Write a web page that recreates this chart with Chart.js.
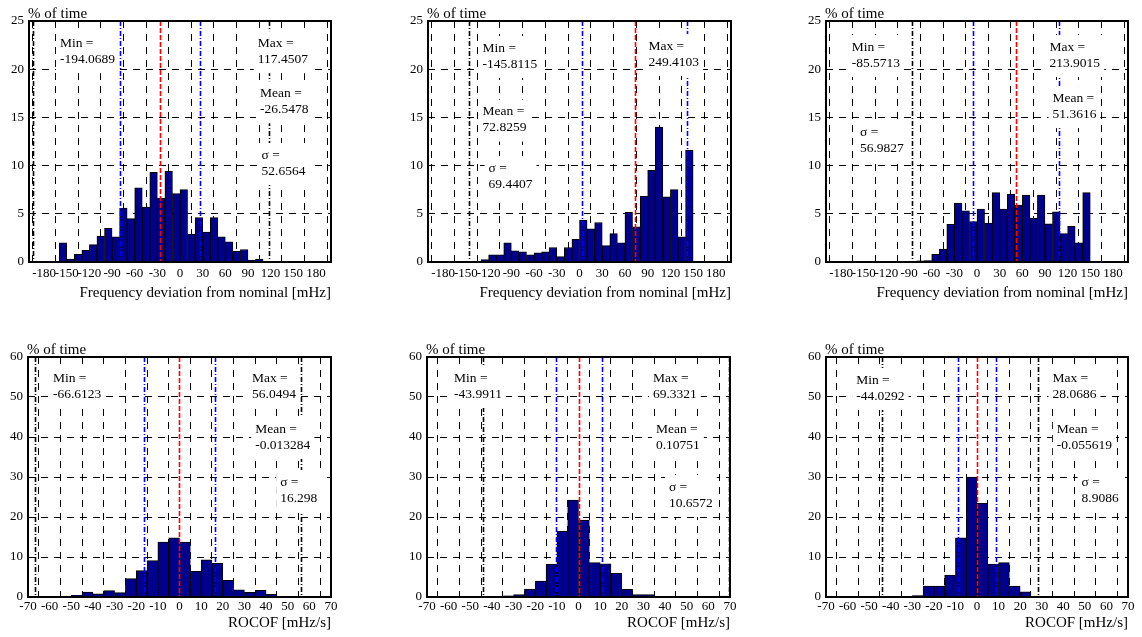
<!DOCTYPE html>
<html>
<head>
<meta charset="utf-8">
<script src="https://cdn.jsdelivr.net/npm/chart.js@4.4.0/dist/chart.umd.min.js"></script>
<style>
  body { margin: 0; background: #fff; width: 1142px; height: 637px; position: relative; overflow: hidden; }
  canvas { position: absolute; }
</style>
</head>
<body>
<canvas id="f1"></canvas>
<canvas id="f2"></canvas>
<canvas id="f3"></canvas>
<canvas id="r1"></canvas>
<canvas id="r2"></canvas>
<canvas id="r3"></canvas>
<script>
// bin centres (10 mHz bins for frequency, 5 mHz/s bins for ROCOF)
const freqBins = [-195,-185,-175,-165,-155,-145,-135,-125,-115,-105,-95,-85,-75,-65,-55,-45,-35,-25,-15,-5,
                  5,15,25,35,45,55,65,75,85,95,105,115,125,135,145,155,165,175,185,195];
const rocofBins = [-67.5,-62.5,-57.5,-52.5,-47.5,-42.5,-37.5,-32.5,-27.5,-22.5,-17.5,-12.5,-7.5,-2.5,
                   2.5,7.5,12.5,17.5,22.5,27.5,32.5,37.5,42.5,47.5,52.5,57.5,62.5,67.5];
const freqTicks = [-180,-150,-120,-90,-60,-30,0,30,60,90,120,150,180];
const rocofTicks = [-70,-60,-50,-40,-30,-20,-10,0,10,20,30,40,50,60,70];
const freqYTicks = [0,5,10,15,20,25];
const rocofYTicks = [0,10,20,30,40,50,60];

// % of time per bin
const freqHistA = [0,0,0,0,2.0,0.3,0.8,1.2,1.8,2.7,3.5,2.6,5.6,4.5,7.7,5.7,9.3,6.6,9.4,7.1,
                   7.5,2.9,4.6,3.1,4.6,2.6,2.1,1.1,1.3,0.2,0.3,0.05,0,0,0,0,0,0,0,0];
const freqHistB = [0,0,0,0,0,0.03,0.1,0.25,0.75,0.75,2.0,1.15,1.05,0.75,0.95,1.05,1.5,0.55,1.5,2.35,
                   4.35,3.45,4.1,1.7,2.95,2.0,5.15,3.65,6.8,9.5,14.0,6.75,7.5,2.6,11.6,0,0,0,0,0];
const freqHistC = [0,0,0,0,0,0,0,0,0,0,0,0,0.12,0.15,0.8,1.35,3.9,6.1,5.3,4.2,
                   5.5,4.05,7.2,5.5,7.05,5.9,6.95,4.55,6.95,3.95,5.2,2.95,3.7,2.0,7.2,0,0,0,0,0];
const rocofHistA = [0,0.05,0.1,0.1,0.4,1.2,0.8,1.6,1.1,4.6,6.6,9.1,13.7,14.8,
                    13.7,6.4,9.3,8.4,4.15,1.8,1.15,1.65,0.65,0.1,0.1,0.05,0,0];
const rocofHistB = [0,0,0,0,0,0,0,0.3,0.6,2.0,4.0,8.2,16.4,24.2,
                    19.2,8.6,8.3,5.9,1.9,0.6,0.6,0.05,0,0,0,0,0,0.2];
const rocofHistC = [0,0,0,0,0,0,0,0.1,0.35,2.7,2.7,5.5,14.8,30.0,
                    23.4,8.2,8.6,2.7,1.3,0.1,0,0,0,0,0,0,0,0];

// statistics
const freqMin = [-194.0689, -145.8115, -85.5713];
const freqMax = [117.4507, 249.4103, 213.9015];
const freqMean = [-26.5478, 72.8259, 51.3616];
const freqStd = [52.6564, 69.4407, 56.9827];
const rocofMin = [-66.6123, -43.9911, -44.0292];
const rocofMax = [56.0494, 69.3321, 28.0686];
const rocofMean = [-0.013284, 0.10751, -0.055619];
const rocofStd = [16.298, 10.6572, 8.9086];

const freqTitle = 'Frequency deviation from nominal [mHz]';
const rocofTitle = 'ROCOF [mHz/s]';

// text anchors in data units: [x, y] of the first line
const freqLabelPos = [
  { min: [-159, 22.7], max: [103, 22.7], mean: [106, 17.5], std: [108, 11.1] },
  { min: [-128, 22.2], max: [91, 22.4], mean: [-128, 15.6], std: [-120, 9.75] },
  { min: [-166, 22.3], max: [96, 22.3], mean: [100, 17.0], std: [-155, 13.4] }
];
const rocofLabelPos = [
  { min: [-58.5, 54.75], max: [33.5, 54.75], mean: [35, 42], std: [46.5, 28.75] },
  { min: [-57.5, 54.75], max: [34.4, 54.75], mean: [35.8, 42], std: [41.8, 27.5] },
  { min: [-56, 54.25], max: [35, 54.75], mean: [37, 42], std: [48.5, 28.75] }
];

const frames = [
  { l: 29, t: 21, r: 331, b: 262 }, { l: 428, t: 21, r: 731, b: 262 }, { l: 826, t: 21, r: 1128, b: 262 },
  { l: 28, t: 357, r: 331, b: 597 }, { l: 427, t: 357, r: 730, b: 597 }, { l: 826, t: 357, r: 1128, b: 597 }
];

const FONT = 'Liberation Serif';

const panels = [];
[freqHistA, freqHistB, freqHistC].forEach((h, i) => {
  panels.push({ id: 'f' + (i + 1), frame: frames[i], bins: freqBins, hist: h, ticks: freqTicks, yTicks: freqYTicks,
    xmin: -200, xmax: 200, title: freqTitle, top: true,
    min: freqMin[i], max: freqMax[i], mean: freqMean[i], std: freqStd[i], pos: freqLabelPos[i] });
});
[rocofHistA, rocofHistB, rocofHistC].forEach((h, i) => {
  panels.push({ id: 'r' + (i + 1), frame: frames[i + 3], bins: rocofBins, hist: h, ticks: rocofTicks, yTicks: rocofYTicks,
    xmin: -70, xmax: 70, title: rocofTitle, top: false,
    min: rocofMin[i], max: rocofMax[i], mean: rocofMean[i], std: rocofStd[i], pos: rocofLabelPos[i] });
});

function statPlugin(p) {
  return {
    id: 'stats',
    afterDatasetsDraw(chart) {
      const { ctx, chartArea: a, scales: { x, y } } = chart;
      ctx.save();
      ctx.beginPath();
      ctx.rect(a.left, a.top, a.right - a.left, a.bottom - a.top);
      ctx.clip();
      const lines = [
        [p.min, '#000000', [5, 2, 1, 2]],
        [p.max, '#000000', [5, 2, 1, 2]],
        [p.mean - p.std, '#0000ff', [5, 2, 1, 2]],
        [p.mean + p.std, '#0000ff', [5, 2, 1, 2]],
        [p.mean, '#ff0000', [5, 2]]
      ];
      ctx.lineWidth = 1.6;
      lines.forEach(([v, c, d]) => {
        const px = Math.round(x.getPixelForValue(v)) + 0.5;
        ctx.strokeStyle = c;
        ctx.setLineDash(d);
        ctx.beginPath();
        ctx.moveTo(px, a.top);
        ctx.lineTo(px, a.bottom);
        ctx.stroke();
      });
      ctx.setLineDash([]);

      // text boxes with white background
      const texts = [
        ['Min =', String(p.min), p.pos.min],
        ['Max =', String(p.max), p.pos.max],
        ['Mean =', String(p.mean), p.pos.mean],
        ['\u03c3 =', String(p.std), p.pos.std]
      ];
      ctx.font = '13.5px "' + FONT + '"';
      ctx.textAlign = 'left';
      ctx.textBaseline = 'middle';
      texts.forEach(([l1, l2, pos]) => {
        const tx = x.getPixelForValue(pos[0]);
        const ty = y.getPixelForValue(pos[1]);
        const w = Math.max(ctx.measureText(l1).width, ctx.measureText(l2).width);
        ctx.fillStyle = '#ffffff';
        ctx.fillRect(tx - 4, ty - 12, w + 8, 42);
        ctx.fillStyle = '#000000';
        ctx.fillText(l1, tx, ty);
        ctx.fillText(l2, tx, ty + 16);
      });
      ctx.restore();
    },
    afterDraw(chart) {
      const { ctx, chartArea: a } = chart;
      ctx.save();
      ctx.strokeStyle = '#000';
      ctx.lineWidth = 2;
      ctx.strokeRect(a.left, a.top, a.right - a.left, a.bottom - a.top);
      ctx.fillStyle = '#000';
      ctx.font = '15px "' + FONT + '"';
      ctx.textAlign = 'left';
      ctx.textBaseline = 'alphabetic';
      ctx.fillText('% of time', a.left - 1, a.top - 3);
      ctx.restore();
    }
  };
}

const yw = 28, padTop = 21, padRight = 12;

panels.forEach(p => {
  const f = p.frame;
  const xh = p.top ? 44 : 39;
  const cv = document.getElementById(p.id);
  cv.width = f.r - f.l + yw + padRight;
  cv.height = f.b - f.t + padTop + xh;
  cv.style.left = (f.l - yw) + 'px';
  cv.style.top = (f.t - padTop) + 'px';

  new Chart(cv, {
    type: 'bar',
    data: {
      datasets: [{
        data: p.bins.map((b, i) => ({ x: b, y: p.hist[i] })),
        backgroundColor: '#00008c',
        borderColor: '#000000',
        borderWidth: 1,
        borderSkipped: 'bottom',
        barPercentage: 1,
        categoryPercentage: 1
      }]
    },
    options: {
      responsive: false,
      animation: false,
      layout: { padding: { top: padTop, right: padRight, left: 0, bottom: 0 } },
      plugins: { legend: { display: false }, tooltip: { enabled: false } },
      scales: {
        x: {
          type: 'linear',
          min: p.xmin,
          max: p.xmax,
          offset: false,
          afterBuildTicks: s => { s.ticks = p.ticks.map(v => ({ value: v })); },
          afterFit: s => { s.height = xh; s.paddingLeft = 0; s.paddingRight = 0; },
          ticks: {
            autoSkip: false, maxRotation: 0, minRotation: 0, color: '#000',
            padding: p.top ? 4 : 2,
            font: { family: FONT, size: 13 }
          },
          grid: { color: '#000', lineWidth: 1, drawTicks: false },
          border: { display: false, dash: [7, 6] },
          title: {
            display: true, text: p.title, align: 'end', color: '#000',
            font: { family: FONT, size: 15 }, padding: { top: 0, bottom: 4 }
          }
        },
        y: {
          min: 0,
          max: p.yTicks[p.yTicks.length - 1],
          afterBuildTicks: s => { s.ticks = p.yTicks.map(v => ({ value: v })); },
          afterFit: s => { s.width = yw; s.paddingTop = 0; s.paddingBottom = 0; },
          ticks: { color: '#000', padding: 5, font: { family: FONT, size: 13 } },
          grid: { color: '#000', lineWidth: 1, drawTicks: false },
          border: { display: false, dash: [7, 6] }
        }
      }
    },
    plugins: [statPlugin(p)]
  });
});
</script>
</body>
</html>
